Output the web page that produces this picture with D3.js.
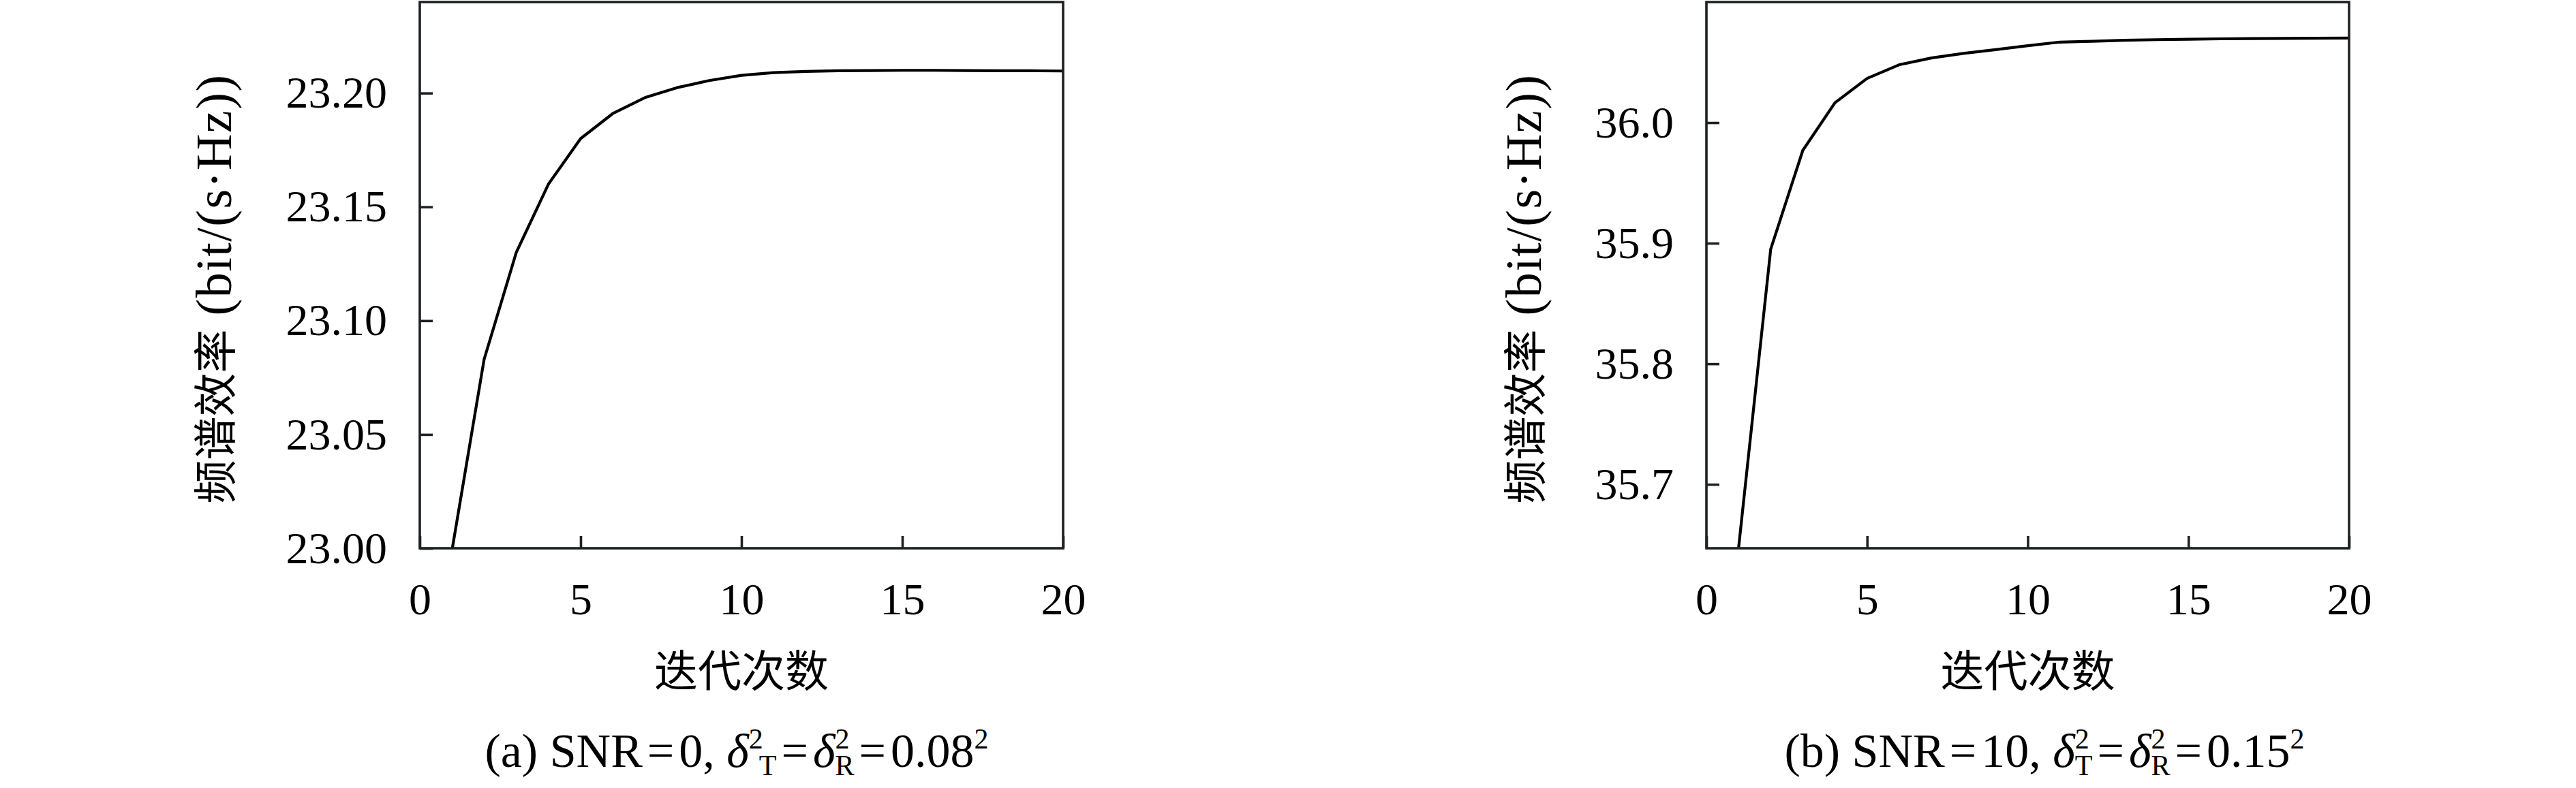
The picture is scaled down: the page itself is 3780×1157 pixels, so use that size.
<!DOCTYPE html>
<html>
<head>
<meta charset="utf-8">
<script src="https://cdn.jsdelivr.net/npm/d3@7"></script>
<style>
  html, body { margin: 0; padding: 0; background: #fff; }
  svg { display: block; }
  .tick text { font-family: "Liberation Serif", "DejaVu Serif", serif; }
</style>
</head>
<body>
<svg id="chart" width="3780" height="1157"></svg>
<script>
// ---- data ----
const iterations = [1,2,3,4,5,6,7,8,9,10,11,12,13,14,15,16,17,18,19,20];
const seA = [22.999, 23.083, 23.130, 23.160, 23.180, 23.191, 23.198, 23.2024, 23.2055, 23.2078,
             23.2090, 23.2095, 23.2098, 23.2099, 23.2100, 23.2100, 23.2099, 23.2098, 23.2098, 23.2097];
const seB = [35.647, 35.895, 35.977, 36.0165, 36.0367, 36.0480, 36.0536, 36.0574, 36.0605, 36.0638,
             36.0668, 36.0675, 36.0683, 36.0688, 36.0692, 36.0695, 36.0697, 36.0699, 36.0700, 36.0701];
const xTicks = [0, 5, 10, 15, 20];
const yTicksA = [23.00, 23.05, 23.10, 23.15, 23.20];
const yTicksB = [35.7, 35.8, 35.9, 36.0];
const yDomainA = [23.00, 23.24];
const yDomainB = [35.647, 36.10];
const xLabel = "迭代次数";
const yLabelCJK = "频谱效率";
const yLabelUnit = " (bit/(s·Hz))";

const svg = d3.select("#chart");
svg.append("rect").attr("width", 3780).attr("height", 1157).attr("fill", "#fff");

const SERIF = '"Liberation Serif", "DejaVu Serif", serif';
const CJK = '"Noto Sans CJK SC", "Noto Sans CJK JP", sans-serif';
const axisColor = "#1e2124";

function panel(cfg) {
  const { left, right, top, bottom, values, yDomain, yTicks, yFmt, id, yLabelX, caption } = cfg;
  const x = d3.scaleLinear().domain([0, 20]).range([left, right]);
  const y = d3.scaleLinear().domain(yDomain).range([bottom, top]);

  svg.append("clipPath").attr("id", id)
    .append("rect").attr("x", left).attr("y", top).attr("width", right - left).attr("height", bottom - top);

  const line = d3.line().x((d, i) => x(iterations[i])).y(d => y(d));
  svg.append("path").datum(values)
    .attr("d", line)
    .attr("fill", "none").attr("stroke", "#000").attr("stroke-width", 4.2)
    .attr("stroke-linejoin", "round")
    .attr("clip-path", `url(#${id})`);

  const gx = svg.append("g").attr("transform", `translate(0,${bottom})`)
    .call(d3.axisBottom(x).tickValues(xTicks).tickSize(-18).tickPadding(50).tickFormat(d3.format("d")));
  const gy = svg.append("g").attr("transform", `translate(${left},0)`)
    .call(d3.axisLeft(y).tickValues(yTicks).tickSize(-19).tickPadding(48).tickFormat(yFmt));
  [gx, gy].forEach(g => {
    g.select(".domain").remove();
    g.selectAll(".tick line").attr("stroke", axisColor).attr("stroke-width", 3.6);
    g.selectAll(".tick text").attr("font-size", 66).attr("font-family", SERIF).attr("fill", "#000");
  });

  svg.append("rect")
    .attr("x", left).attr("y", top).attr("width", right - left).attr("height", bottom - top)
    .attr("fill", "none").attr("stroke", axisColor).attr("stroke-width", 3.6);

  // x axis label
  svg.append("text")
    .attr("x", (left + right) / 2).attr("y", 1008)
    .attr("text-anchor", "middle")
    .attr("font-family", CJK).attr("font-size", 64).attr("fill", "#000")
    .text(xLabel);

  // y axis label
  const yl = svg.append("text")
    .attr("transform", `translate(${yLabelX},424) rotate(-90)`)
    .attr("text-anchor", "middle")
    .attr("dy", "0.35em")
    .attr("fill", "#000");
  yl.append("tspan").attr("font-family", CJK).attr("font-size", 64).text(yLabelCJK);
  yl.append("tspan").attr("font-family", SERIF).attr("font-size", 74).attr("letter-spacing", 1.5).text(yLabelUnit);

  // caption
  const cap = svg.append("text")
    .attr("x", caption.cx).attr("y", 1126)
    .attr("text-anchor", "middle")
    .attr("font-family", SERIF).attr("font-size", 70).attr("fill", "#000");
  const eqGap = 7;
  cap.append("tspan").text(caption.pre1);
  cap.append("tspan").attr("dx", eqGap).text("=");
  cap.append("tspan").attr("dx", eqGap).text(caption.pre2);
  cap.append("tspan").attr("font-style", "italic").text("δ");
  cap.append("tspan").attr("font-size", 42).attr("dy", -27).text("2");
  cap.append("tspan").attr("font-size", 42).attr("dx", caption.stagger ? -6 : -21).attr("dy", 39).text("T");
  cap.append("tspan").attr("dy", -12).attr("dx", eqGap).text("=");
  cap.append("tspan").attr("dx", eqGap).attr("font-style", "italic").text("δ");
  cap.append("tspan").attr("font-size", 42).attr("dy", -27).text("2");
  cap.append("tspan").attr("font-size", 42).attr("dx", -21).attr("dy", 39).text("R");
  cap.append("tspan").attr("dy", -12).attr("dx", eqGap).text("=");
  cap.append("tspan").attr("dx", eqGap).text(caption.val);
  cap.append("tspan").attr("font-size", 42).attr("dy", -27).text("2");
}

panel({
  id: "clipA", left: 616, right: 1560, top: 3, bottom: 805,
  values: seA, yDomain: yDomainA, yTicks: yTicksA, yFmt: d3.format(".2f"),
  yLabelX: 333,
  caption: { cx: 1081, pre1: "(a) SNR", pre2: "0, ", val: "0.08", stagger: true }
});
panel({
  id: "clipB", left: 2504, right: 3447, top: 3, bottom: 805,
  values: seB, yDomain: yDomainB, yTicks: yTicksB, yFmt: d3.format(".1f"),
  yLabelX: 2255,
  caption: { cx: 3000, pre1: "(b) SNR", pre2: "10, ", val: "0.15", stagger: false }
});
</script>
</body>
</html>
